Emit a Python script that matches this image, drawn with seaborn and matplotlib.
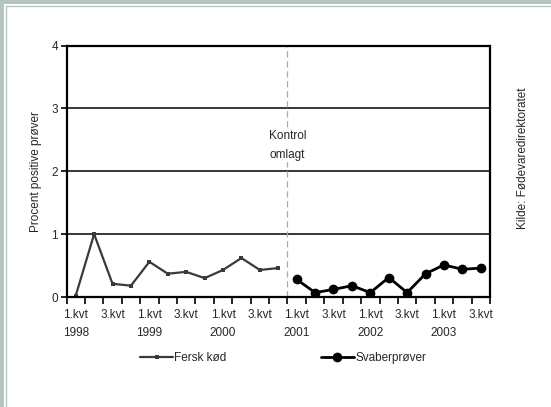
import matplotlib
matplotlib.use("Agg")
import matplotlib.pyplot as plt
from matplotlib.patches import Rectangle
from matplotlib.lines import Line2D
import numpy as np
import pandas as pd
import seaborn as sns

# Quarterly share of positive samples (%)
quarters = [f"{q}.kvt {y}" for y in range(1998, 2004) for q in range(1, 5)][:23]
fersk_kod = [0.02, 1.00, 0.21, 0.18, 0.56, 0.37, 0.40, 0.30, 0.43, 0.62, 0.43, 0.46]
svaberprover = [0.28, 0.07, 0.12, 0.18, 0.07, 0.31, 0.07, 0.37, 0.51, 0.44, 0.46]
tick_labels = ["1.kvt\n1998", "3.kvt", "1.kvt\n1999", "3.kvt", "1.kvt\n2000", "3.kvt",
               "1.kvt\n2001", "3.kvt", "1.kvt\n2002", "3.kvt", "1.kvt\n2003", "3.kvt"]

df_fersk = pd.DataFrame({"idx": np.arange(len(fersk_kod)), "pct": fersk_kod})
df_svaber = pd.DataFrame({"idx": np.arange(len(svaberprover)) + len(fersk_kod),
                          "pct": svaberprover})

sns.set_theme(style="white")
plt.rcParams["font.family"] = ["Liberation Sans", "DejaVu Sans"]
plt.rcParams["font.size"] = 8

W, H = 551, 407
fig = plt.figure(figsize=(W / 100, H / 100), dpi=100)
fig.patch.set_facecolor("white")

# Frame strips along the top and left edge
frame_col = "#b3c7bf"
fig.add_artist(Rectangle((0, 0), 4 / W, 1, transform=fig.transFigure, color=frame_col, lw=0))
fig.add_artist(Rectangle((0, 1 - 3.5 / H), 1, 3.5 / H, transform=fig.transFigure, color=frame_col, lw=0))
fig.add_artist(Line2D([5.5 / W, 5.5 / W], [0, 1 - 5.5 / H], transform=fig.transFigure, color=frame_col, lw=1))
fig.add_artist(Line2D([5.5 / W, 1], [1 - 5.5 / H, 1 - 5.5 / H], transform=fig.transFigure, color=frame_col, lw=1))

ax = fig.add_axes([66.5 / W, 1 - 297 / H, (490 - 66.5) / W, (297 - 45.5) / H])
ax.set_facecolor("white")

sns.lineplot(data=df_fersk, x="idx", y="pct", ax=ax, color="#3a3a3a", lw=1.6,
             marker="s", markersize=3, markeredgewidth=0, label="Fersk kød")
sns.lineplot(data=df_svaber, x="idx", y="pct", ax=ax, color="black", lw=2.0,
             marker="o", markersize=7, markeredgewidth=0, label="Svaberprøver")

ax.set_xlim(-0.5, len(quarters) - 0.5)
ax.set_ylim(0, 4)

# Horizontal gridlines
for yv in [1, 2, 3]:
    ax.axhline(yv, color="black", lw=1.1, zorder=0)

# Change of control method
ax.axvline(len(fersk_kod) - 0.5, color="#aaaaaa", lw=0.9, ls=(0, (5, 3)), zorder=0)
ax.text(len(fersk_kod) - 0.5, 2.17, "Kontrol\nomlagt", ha="center", va="bottom",
        fontsize=8.5, linespacing=1.75, bbox=dict(facecolor="white", edgecolor="none", pad=1))

for s in ax.spines.values():
    s.set_color("black")
    s.set_linewidth(1.6)
    s.set_visible(True)

ax.set_yticks([0, 1, 2, 3, 4])
ax.set_yticklabels(["0", "1", "2", "3", "4"], fontsize=8.5)
ax.tick_params(axis="y", direction="out", length=4, width=1.2, color="black", pad=2, left=True)

ax.set_xticks(np.arange(-0.5, len(quarters)), minor=True)
ax.set_xticks(np.arange(0, len(quarters), 2))
ax.set_xticklabels(tick_labels, fontsize=8.5, linespacing=1.6)
ax.tick_params(axis="x", which="major", length=0, pad=9)
ax.tick_params(axis="x", which="minor", direction="out", length=5, width=1.2,
               color="black", bottom=True)

ax.set_xlabel("")
ax.set_ylabel("Procent positive prøver", fontsize=8.5, labelpad=7)

ax.get_legend().remove()
handles, labels = ax.get_legend_handles_labels()
fig.legend(handles, labels, loc="center", bbox_to_anchor=(283 / W, 1 - 358 / H),
           ncol=2, frameon=False, fontsize=8.5, handlelength=2.8, handletextpad=0.1,
           columnspacing=8.0)

fig.text(523 / W, 1 - 158 / H, "Kilde: Fødevaredirektoratet", rotation=90,
         ha="center", va="center", fontsize=8.5)

fig.savefig("out.png", dpi=100, facecolor="white")
